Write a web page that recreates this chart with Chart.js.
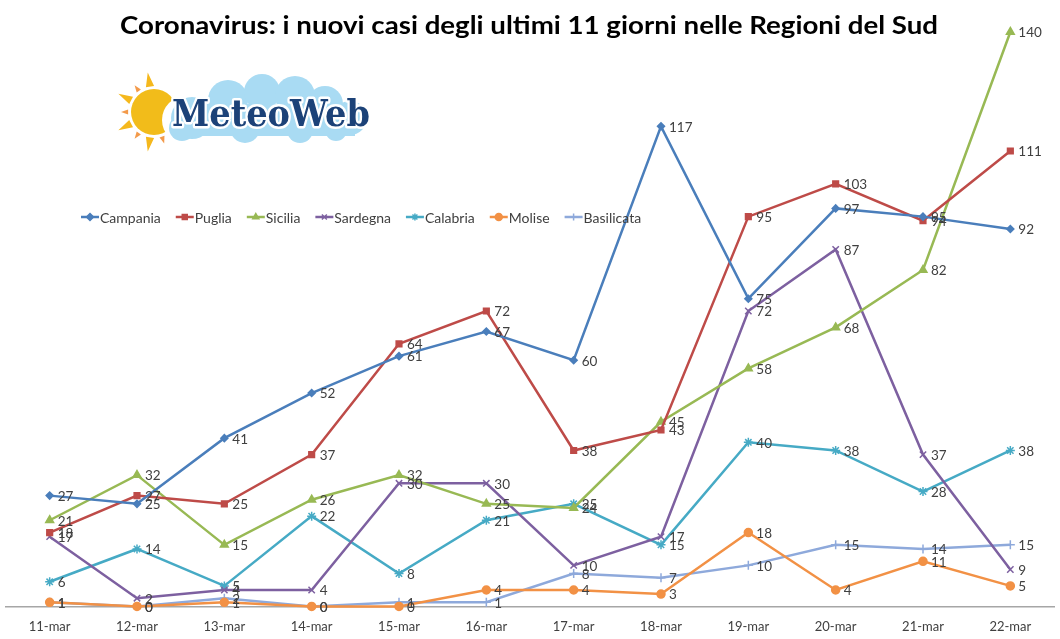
<!DOCTYPE html>
<html>
<head>
<meta charset="utf-8">
<script src="https://cdn.jsdelivr.net/npm/chart.js@4"></script>
<style>
  html, body { margin: 0; padding: 0; background: #fff; }
  #chart { display: block; }
</style>
</head>
<body>
<canvas id="chart" width="1060" height="639"></canvas>
<script>
const days = ["11-mar", "12-mar", "13-mar", "14-mar", "15-mar", "16-mar", "17-mar", "18-mar", "19-mar", "20-mar", "21-mar", "22-mar"]

const campania = [27, 25, 41, 52, 61, 67, 60, 117, 75, 97, 95, 92]
const puglia = [18, 27, 25, 37, 64, 72, 38, 43, 95, 103, 94, 111]
const sicilia = [21, 32, 15, 26, 32, 25, 24, 45, 58, 68, 82, 140]
const sardegna = [17, 2, 4, 4, 30, 30, 10, 17, 72, 87, 37, 9]
const calabria = [6, 14, 5, 22, 8, 21, 25, 15, 40, 38, 28, 38]
const molise = [1, 0, 1, 0, 0, 4, 4, 3, 18, 4, 11, 5]
const basilicata = [1, 0, 2, 0, 1, 1, 8, 7, 10, 15, 14, 15]

const TITLE = "Coronavirus: i nuovi casi degli ultimi 11 giorni nelle Regioni del Sud"
const FONT = "Lato, 'Open Sans', sans-serif"
const TEXT = "#404040"

function series(label, data, color, style, radius) {
  return {
    label, data,
    borderColor: color,
    backgroundColor: color,
    borderWidth: 2.5,
    pointStyle: style,
    pointRadius: radius,
    pointBorderWidth: 1.5,
    pointBackgroundColor: color,
    pointBorderColor: color,
    tension: 0
  }
}

const datasets = [
  series("Campania", campania, "#4A7EBB", "rectRot", 3.5),
  series("Puglia", puglia, "#BE4B48", "rect", 4),
  series("Sicilia", sicilia, "#98B954", "triangle", 4.5),
  series("Sardegna", sardegna, "#7D60A0", "crossRot", 4.5),
  series("Calabria", calabria, "#46AAC5", "star", 4.5),
  series("Molise", molise, "#F29145", "circle", 4),
  series("Basilicata", basilicata, "#8EA9DB", "cross", 4.5)
]

// value labels to the right of each point
const valueLabels = {
  id: "valueLabels",
  afterDatasetsDraw(chart) {
    const ctx = chart.ctx
    ctx.save()
    ctx.font = "13.5px " + FONT
    ctx.fillStyle = TEXT
    ctx.textBaseline = "middle"
    ctx.textAlign = "left"
    chart.data.datasets.forEach((ds, i) => {
      chart.getDatasetMeta(i).data.forEach((pt, j) => {
        ctx.fillText(String(ds.data[j]), pt.x + 8, pt.y + 1)
      })
    })
    ctx.restore()
  }
}

// title, legend and logo
const decorations = {
  id: "decorations",
  afterDraw(chart) {
    const ctx = chart.ctx
    ctx.save()

    // title
    ctx.font = "bold 25px " + FONT
    ctx.fillStyle = "#000"
    ctx.textBaseline = "alphabetic"
    ctx.textAlign = "left"
    const tw = ctx.measureText(TITLE).width
    ctx.save()
    ctx.translate(120, 34)
    ctx.scale(818 / tw, 1)
    ctx.fillText(TITLE, 0, 0)
    ctx.restore()

    // legend
    let x = 81
    const y = 217
    ctx.font = "14px " + FONT
    ctx.textBaseline = "middle"
    chart.data.datasets.forEach((ds) => {
      ctx.strokeStyle = ds.borderColor
      ctx.fillStyle = ds.borderColor
      ctx.lineWidth = 2.5
      ctx.beginPath()
      ctx.moveTo(x, y)
      ctx.lineTo(x + 18, y)
      ctx.stroke()
      ctx.lineWidth = 1.5
      Chart.helpers.drawPoint(ctx, {
        pointStyle: ds.pointStyle, radius: 3.5, borderWidth: 1.5, rotation: 0
      }, x + 9, y)
      ctx.fillStyle = TEXT
      ctx.fillText(ds.label, x + 19, y + 1)
      x += 19 + ctx.measureText(ds.label).width + 15
    })

    drawLogo(ctx)
    ctx.restore()
  }
}

function drawLogo(ctx) {
  // sun rays
  const cx = 154, cy = 112
  for (let k = 0; k < 8; k++) {
    const a = Math.PI * 0.55 + k * (Math.PI * 1.05 / 7)
    const big = k % 2 === 0
    const r1 = 26, r2 = big ? 40 : 33, w = big ? 0.16 : 0.1
    ctx.fillStyle = big ? "#F5B81C" : "#F39A4A"
    ctx.beginPath()
    ctx.moveTo(cx + r1 * Math.cos(a - w), cy - r1 * Math.sin(a - w))
    ctx.lineTo(cx + r2 * Math.cos(a), cy - r2 * Math.sin(a))
    ctx.lineTo(cx + r1 * Math.cos(a + w), cy - r1 * Math.sin(a + w))
    ctx.closePath()
    ctx.fill()
  }
  // sun disk
  ctx.fillStyle = "#F2BC1A"
  ctx.beginPath()
  ctx.arc(cx, cy, 23, 0, Math.PI * 2)
  ctx.fill()

  // cloud
  ctx.fillStyle = "#fff"
  ctx.beginPath()
  ctx.arc(186, 120, 24, 0, Math.PI * 2)
  ctx.fill()
  ctx.fillStyle = "#A9DBF3"
  const puffs = [
    [192, 118, 21], [228, 100, 20], [262, 92, 18], [295, 96, 20], [325, 104, 18],
    [350, 118, 17], [245, 128, 15], [300, 130, 13], [182, 128, 13], [336, 130, 11]
  ]
  puffs.forEach(([px, py, r]) => {
    ctx.beginPath()
    ctx.arc(px, py, r, 0, Math.PI * 2)
    ctx.fill()
  })
  ctx.fillRect(185, 104, 170, 32)

  // name
  ctx.font = "bold 37px 'DejaVu Serif', 'Liberation Serif', serif"
  const word = "MeteoWeb"
  const ww = ctx.measureText(word).width
  ctx.save()
  ctx.translate(172, 126)
  ctx.scale(198 / ww, 1)
  ctx.textBaseline = "alphabetic"
  ctx.lineJoin = "round"
  ctx.lineWidth = 5
  ctx.strokeStyle = "#fff"
  ctx.strokeText(word, 0, 0)
  ctx.fillStyle = "#1C4278"
  ctx.fillText(word, 0, 0)
  ctx.restore()
}

new Chart(document.getElementById("chart"), {
  type: "line",
  data: { labels: days, datasets },
  plugins: [valueLabels, decorations],
  options: {
    responsive: false,
    animation: false,
    layout: { padding: { top: 32, left: 1, right: 5, bottom: -9 } },
    plugins: {
      legend: { display: false },
      title: { display: false },
      tooltip: { enabled: false }
    },
    datasets: { line: { clip: false } },
    scales: {
      x: {
        offset: true,
        grid: { display: false, drawTicks: false },
        border: { color: "#A6A6A6", width: 1.5 },
        ticks: { color: TEXT, font: { size: 13, family: FONT }, padding: 13, maxRotation: 0 }
      },
      y: {
        display: false,
        min: 0,
        max: 140
      }
    }
  }
})
</script>
</body>
</html>
